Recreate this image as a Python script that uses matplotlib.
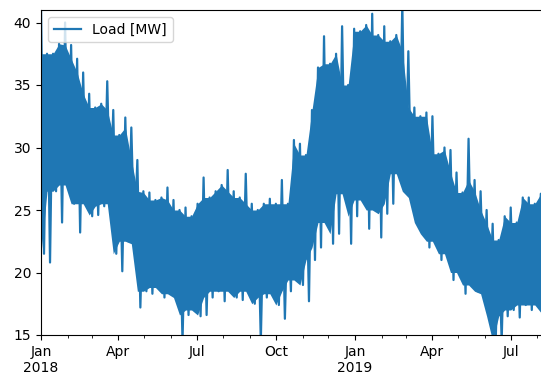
import matplotlib
matplotlib.use("Agg")
import matplotlib.pyplot as plt
import matplotlib.dates as mdates
import pandas as pd

# weekly load envelope (MW): highest and lowest hourly values of each week
week_start = pd.date_range("2018-01-01", periods=84, freq="7D")
weekly_peak = [
    41.5, 37.5, 37.5, 38.3, 40.0, 38.2, 37.1, 36.0, 34.3, 33.2,
    33.5, 35.3, 33.0, 31.0, 32.4, 31.6, 29.0, 26.5, 26.4, 25.8,
    26.0, 26.8, 25.8, 25.0, 25.2, 24.5, 25.5, 27.6, 26.0, 26.5,
    27.0, 28.2, 26.5, 26.0, 27.9, 25.5, 25.0, 25.5, 25.9, 25.5,
    27.4, 25.5, 30.6, 30.3, 29.4, 33.0, 36.4, 38.9, 36.7, 37.5,
    39.7, 35.0, 39.5, 39.3, 39.8, 40.7, 39.0, 39.7, 38.5, 39.0,
    41.5, 37.7, 33.2, 32.5, 32.8, 32.5, 29.5, 30.0, 29.8, 28.0,
    26.4, 30.7, 27.4, 26.5, 25.0, 23.9, 22.6, 24.5, 25.2, 24.0,
    26.0, 26.0, 25.5, 26.3,
]
weekly_low = [
    21.5, 20.8, 26.5, 24.0, 27.0, 25.5, 23.2, 25.5, 24.5, 24.6,
    25.3, 25.5, 21.5, 20.1, 22.5, 22.3, 17.2, 18.5, 18.3, 18.8,
    18.0, 18.3, 18.0, 14.5, 16.6, 17.0, 16.5, 16.6, 18.0, 18.5,
    17.7, 18.5, 18.0, 17.8, 18.5, 17.5, 14.5, 18.0, 18.3, 17.4,
    16.3, 18.5, 19.4, 19.0, 17.7, 21.0, 22.0, 24.0, 22.3, 23.1,
    26.3, 22.3, 24.5, 25.8, 23.5, 25.0, 22.8, 24.7, 25.5, 27.9,
    26.5, 26.0, 24.0, 23.1, 22.0, 22.5, 21.0, 21.5, 19.4, 20.0,
    18.3, 19.0, 18.5, 18.3, 16.5, 14.5, 14.5, 16.5, 17.0, 16.4,
    17.4, 17.0, 17.4, 16.8,
]

peak = pd.Series(weekly_peak, index=week_start)
low = pd.Series(weekly_low, index=week_start + pd.Timedelta(hours=84))
load = pd.concat([peak, low]).sort_index()

# the bulk of the hourly values: the band a week shares with the next one
peak_next = peak.shift(-1).fillna(peak)
low_next = pd.Series(weekly_low).shift(-1).fillna(pd.Series(weekly_low))
core_top = peak.combine(peak_next, min).values
core_bottom = pd.Series(weekly_low).combine(low_next, max).values

fig = plt.figure(figsize=(5.41, 3.78), dpi=100)
ax = fig.add_axes([41 / 541, 43 / 378, 1 - 41 / 541, 325 / 378])

color = "#1f77b4"
ax.fill_between(week_start, core_bottom, core_top, color=color, lw=0)
ax.plot(load.index, load.values, color=color, lw=1.6, label="Load [MW]")

ax.set_ylim(15, 41)
ax.set_xlim(pd.Timestamp("2018-01-01"), pd.Timestamp("2019-08-05 05:00"))
ax.set_yticks([15, 20, 25, 30, 35, 40])

ax.xaxis.set_major_locator(mdates.MonthLocator(bymonth=[1, 4, 7, 10]))
ax.xaxis.set_minor_locator(mdates.MonthLocator())


def month_label(x, pos):
    d = mdates.num2date(x)
    if d.month == 1:
        return d.strftime("%b\n%Y")
    return d.strftime("%b")


ax.xaxis.set_major_formatter(plt.FuncFormatter(month_label))
ax.spines["right"].set_visible(False)
ax.legend(loc="upper left")

fig.savefig("out.png", dpi=100)
